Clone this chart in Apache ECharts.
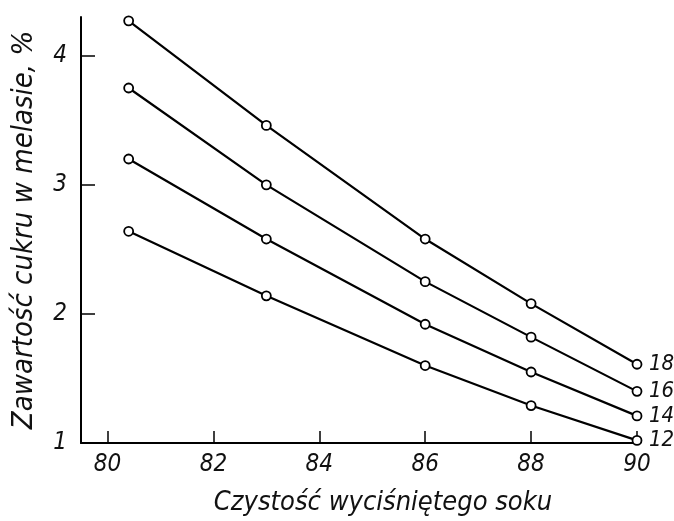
<!DOCTYPE html>
<html>
<head>
<meta charset="utf-8">
<script src="https://cdn.jsdelivr.net/npm/echarts@6/dist/echarts.min.js"></script>
<style>
  html, body { margin: 0; padding: 0; background: #fff; }
  #chart { width: 674px; height: 521px; }
</style>
</head>
<body>
<div id="chart"></div>
<script>
// dane
var czystosc = [80.4, 83, 86, 88, 90];
var seriaNazwy = ['18', '16', '14', '12'];
var cukier18 = [4.27, 3.46, 2.58, 2.08, 1.61];
var cukier16 = [3.75, 3.0, 2.25, 1.82, 1.40];
var cukier14 = [3.20, 2.58, 1.92, 1.55, 1.21];
var cukier12 = [2.64, 2.14, 1.60, 1.29, 1.02];
var xTicks = [80, 82, 84, 86, 88, 90];
var yTicks = [1, 2, 3, 4];

var font = '"DejaVu Sans Condensed", "DejaVu Sans", sans-serif';
var chart = echarts.init(document.getElementById('chart'));

function pary(ys) {
     var out = [];
     for (var i = 0; i < czystosc.length; i++) {
          out.push([czystosc[i], ys[i]]);
     }
     return out;
}

function seria(nazwa, ys) {
     return {
          name: nazwa,
          type: 'line',
          data: pary(ys),
          symbol: 'circle',
          symbolSize: 9,
          showAllSymbol: true,
          lineStyle: { color: '#000', width: 2.2 },
          itemStyle: { color: '#fff', borderColor: '#000', borderWidth: 1.8 },
          endLabel: {
               show: true,
               formatter: '{a}',
               distance: 12,
               color: '#111',
               fontFamily: font,
               fontStyle: 'italic',
               fontSize: 22
          },
          emphasis: { disabled: true },
          z: 3
     };
}

var option = {
     animation: false,
     backgroundColor: '#fff',
     grid: { left: 81, right: 37, top: 17, bottom: 71 },
     xAxis: {
          type: 'value',
          min: 79.5,
          max: 90,
          name: 'Czystość wyciśniętego soku',
          nameLocation: 'middle',
          nameGap: 46,
          nameTextStyle: {
               color: '#111', fontFamily: font, fontStyle: 'italic', fontSize: 27,
               padding: [0, 0, 0, 48]
          },
          splitLine: { show: false },
          axisLine: { lineStyle: { color: '#000', width: 2 } },
          axisTick: { show: true, inside: true, length: 12, customValues: xTicks, lineStyle: { color: '#000', width: 1.5 } },
          axisLabel: {
               customValues: xTicks, margin: 10,
               color: '#111', fontFamily: font, fontStyle: 'italic', fontSize: 24
          }
     },
     yAxis: {
          type: 'value',
          min: 1,
          max: 4.3,
          name: 'Zawartość cukru w melasie, %',
          nameLocation: 'middle',
          nameGap: 42,
          nameTextStyle: { color: '#111', fontFamily: font, fontStyle: 'italic', fontSize: 29 },
          splitLine: { show: false },
          axisLine: { show: true, lineStyle: { color: '#000', width: 2 } },
          axisTick: { show: true, inside: true, length: 14, customValues: yTicks, lineStyle: { color: '#000', width: 1.5 } },
          axisLabel: {
               customValues: yTicks, margin: 14,
               color: '#111', fontFamily: font, fontStyle: 'italic', fontSize: 24
          }
     },
     series: [
          seria(seriaNazwy[0], cukier18),
          seria(seriaNazwy[1], cukier16),
          seria(seriaNazwy[2], cukier14),
          seria(seriaNazwy[3], cukier12)
     ]
};

chart.setOption(option);
</script>
</body>
</html>
